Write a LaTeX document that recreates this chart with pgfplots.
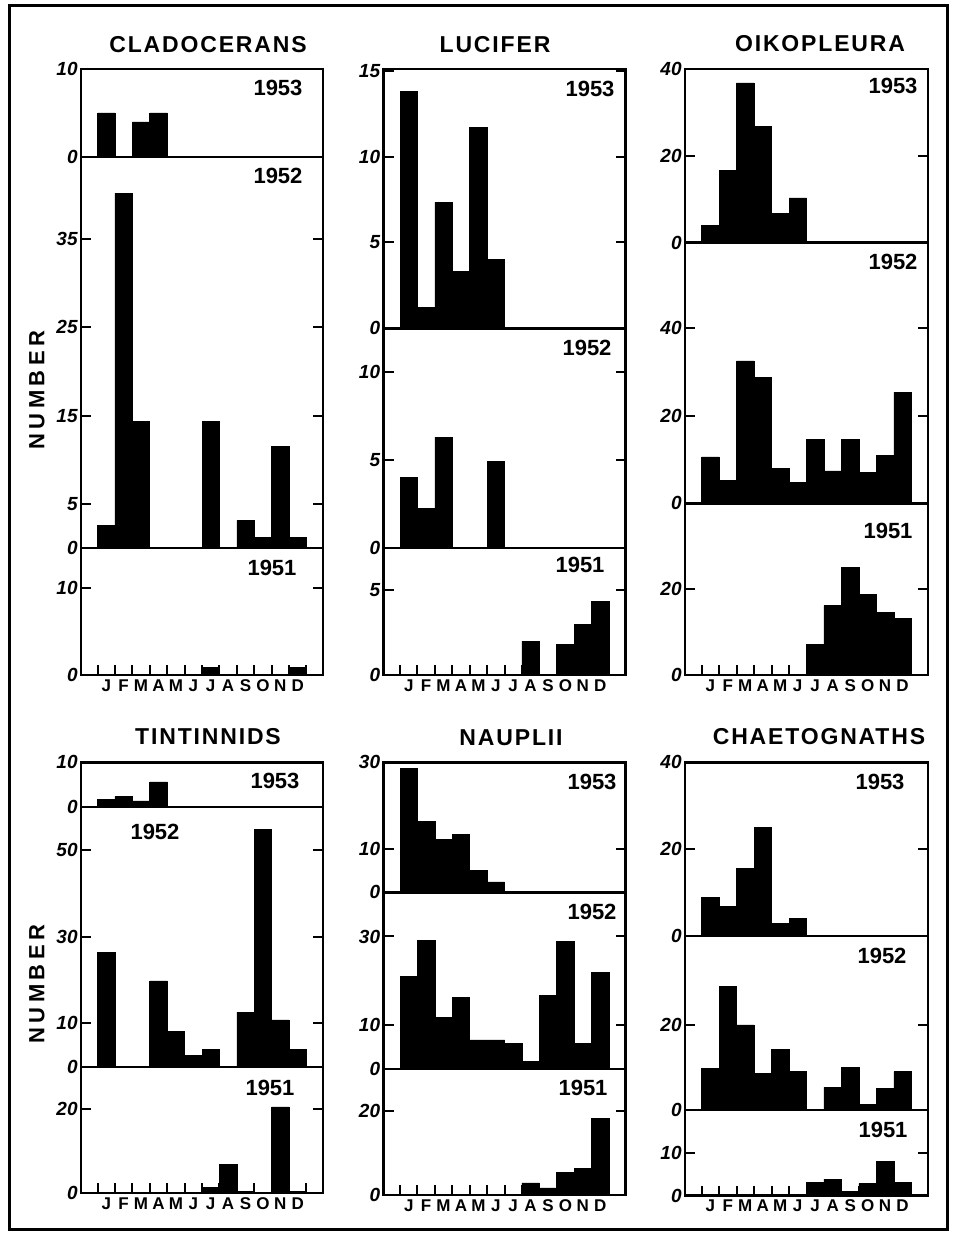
\documentclass[border=0pt]{standalone}
\usepackage{fontspec}
\setmainfont{Liberation Sans}
\usepackage{pgfplots}
\pgfplotsset{compat=1.18}
\newcommand{\ttl}{\bfseries\fontsize{11.5}{11.5}\selectfont\addfontfeature{LetterSpace=8}}
\newcommand{\yr}{\bfseries\fontsize{11}{11}\selectfont}
\begin{document}
\begin{tikzpicture}
\path[use as bounding box] (0pt,0pt) rectangle (476.5pt,-618pt);
\pgfplotsset{
 sub/.style={
   scale only axis, width=121pt, anchor=south west,
   xmin=-0.45, xmax=13.45, ymin=0,
   axis line style={line width=1.2pt},
   xtick=\empty,
   xtick pos=bottom, ytick pos=both, yticklabel pos=left, tick align=inside,
   major tick length=5pt,
   tick style={line width=1pt, black},
   /pgf/number format/assume math mode=true,
   yticklabel style={font=\bfseries\itshape\fontsize{9.5}{9.5}\selectfont, inner sep=1.5pt},
 },
 months/.style={
   xtick={0.5,1.5,2.5,3.5,4.5,5.5,6.5,7.5,8.5,9.5,10.5,11.5,12.5},
   xticklabels={J,F,M,A,M,J,J,A,S,O,N,D,{}},
   xticklabel style={xshift=4.35pt, font=\bfseries\fontsize{8.5}{8.5}\selectfont, inner sep=2pt},
 },
 bars/.style={ybar, bar width=1, fill=black, draw=black, line width=0.3pt},
}
% ---------- CLADOCERANS ----------
\begin{axis}[sub, at={(40.5pt,-78.5pt)}, height=44pt, ymax=10, ytick={0,10}]
\addplot[bars] coordinates {(1,5)(3,4)(4,5)};
\end{axis}
\begin{axis}[sub, at={(40.5pt,-274pt)}, height=195.5pt, ymax=44.3, ytick={0,5,15,25,35}]
\addplot[bars] coordinates {(1,2.6)(2,40.2)(3,14.3)(7,14.3)(9,3.1)(10,1.2)(11,11.5)(12,1.2)};
\end{axis}
\begin{axis}[sub, months, at={(40.5pt,-337.5pt)}, height=63.5pt, ymax=14.6, ytick={0,10}]
\addplot[bars] coordinates {(7,0.9)(12,0.9)};
\end{axis}
% ---------- LUCIFER ----------
\begin{axis}[sub, at={(191.75pt,-164.15pt)}, height=129.65pt, ymax=15.1, ytick={0,5,10,15}]
\addplot[bars] coordinates {(1,13.8)(2,1.2)(3,7.35)(4,3.3)(5,11.7)(6,4.0)};
\end{axis}
\begin{axis}[sub, at={(191.75pt,-273.85pt)}, height=109.7pt, ymax=12.5, ytick={0,5,10}]
\addplot[bars] coordinates {(1,4)(2,2.25)(3,6.3)(6,4.9)};
\end{axis}
\begin{axis}[sub, months, at={(191.75pt,-337.5pt)}, height=63.65pt, ymax=7.5, ytick={0,5}]
\addplot[bars] coordinates {(8,2.0)(10,1.8)(11,3.0)(12,4.35)};
\end{axis}
% ---------- OIKOPLEURA ----------
\begin{axis}[sub, width=121.5pt, at={(342.5pt,-121.35pt)}, height=86.85pt, ymax=40, ytick={0,20,40}]
\addplot[bars] coordinates {(1,3.9)(2,16.7)(3,36.8)(4,26.7)(5,6.8)(6,10.3)};
\end{axis}
\begin{axis}[sub, width=121.5pt, at={(342.5pt,-251.65pt)}, height=130.3pt, ymax=59.5, ytick={0,20,40}]
\addplot[bars] coordinates {(1,10.6)(2,5.2)(3,32.5)(4,28.8)(5,8.0)(6,4.8)(7,14.5)(8,7.4)(9,14.5)(10,7.1)(11,11.0)(12,25.3)};
\end{axis}
\begin{axis}[sub, months, width=121.5pt, at={(342.5pt,-337.5pt)}, height=85.85pt, ymax=40.1, ytick={0,20}]
\addplot[bars] coordinates {(7,7.2)(8,16.2)(9,25.2)(10,18.9)(11,14.6)(12,13.2)};
\end{axis}
% ---------- TINTINNIDS ----------
\begin{axis}[sub, at={(40.5pt,-403.35pt)}, height=22.2pt, ymax=10, ytick={0,10}]
\addplot[bars] coordinates {(1,1.7)(2,2.25)(3,1.3)(4,5.6)};
\end{axis}
\begin{axis}[sub, at={(40.5pt,-533.35pt)}, height=130pt, ymax=60, ytick={0,10,30,50}]
\addplot[bars] coordinates {(1,26.4)(4,19.8)(5,8.1)(6,2.7)(7,4.0)(9,12.6)(10,54.8)(11,10.8)(12,4.0)};
\end{axis}
\begin{axis}[sub, months, at={(40.5pt,-596.5pt)}, height=63.15pt, ymax=30.2, ytick={0,20}]
\addplot[bars] coordinates {(7,1.3)(8,6.8)(9,0.4)(11,20.6)(12,0.4)};
\end{axis}
% ---------- NAUPLII ----------
\begin{axis}[sub, at={(191.75pt,-446.15pt)}, height=65pt, ymax=30, ytick={0,10,30}]
\addplot[bars] coordinates {(1,28.6)(2,16.3)(3,12.3)(4,13.4)(5,5.1)(6,2.4)};
\end{axis}
\begin{axis}[sub, at={(191.75pt,-534.5pt)}, height=88.35pt, ymax=40, ytick={0,10,30}]
\addplot[bars] coordinates {(1,20.9)(2,29.1)(3,11.7)(4,16.2)(5,6.6)(6,6.6)(7,5.8)(8,1.8)(9,16.6)(10,28.9)(11,5.8)(12,21.8)};
\end{axis}
\begin{axis}[sub, months, at={(191.75pt,-597.5pt)}, height=63pt, ymax=30, ytick={0,20}]
\addplot[bars] coordinates {(8,2.9)(9,1.7)(10,5.3)(11,6.3)(12,18.2)};
\end{axis}
% ---------- CHAETOGNATHS ----------
\begin{axis}[sub, width=121.5pt, at={(342.5pt,-468pt)}, height=86.85pt, ymax=40, ytick={0,20,40}]
\addplot[bars] coordinates {(1,8.8)(2,6.8)(3,15.6)(4,25)(5,2.9)(6,4.0)};
\end{axis}
\begin{axis}[sub, width=121.5pt, at={(342.5pt,-555pt)}, height=87pt, ymax=40.9, ytick={0,20}]
\addplot[bars] coordinates {(1,9.8)(2,29)(3,20)(4,8.6)(5,14.3)(6,9.0)(8,5.3)(9,10.0)(10,1.4)(11,5.1)(12,9.0)};
\end{axis}
\begin{axis}[sub, months, width=121.5pt, at={(342.5pt,-597.75pt)}, height=42.75pt, ymax=20.2, ytick={0,10}]
\addplot[bars] coordinates {(7,3.1)(8,3.9)(9,0.9)(10,2.8)(11,8.0)(12,3.1)};
\end{axis}
% ---------- titles and labels ----------
\node at (104pt,-22.5pt) {\ttl CLADOCERANS};
\node at (247.5pt,-22.5pt) {\ttl LUCIFER};
\node at (410pt,-22pt) {\ttl OIKOPLEURA};
\node at (104pt,-368.5pt) {\ttl TINTINNIDS};
\node at (255.5pt,-369pt) {\ttl NAUPLII};
\node at (409.5pt,-368.5pt) {\ttl CHAETOGNATHS};
\node[rotate=90] at (18.5pt,-195pt) {\bfseries\fontsize{11}{11}\selectfont\addfontfeature{LetterSpace=20}NUMBER};
\node[rotate=90] at (18.5pt,-492pt) {\bfseries\fontsize{11}{11}\selectfont\addfontfeature{LetterSpace=20}NUMBER};
\node at (139pt,-44pt) {\yr 1953};
\node at (139pt,-88pt) {\yr 1952};
\node at (136pt,-284pt) {\yr 1951};
\node at (295pt,-44.5pt) {\yr 1953};
\node at (293.5pt,-174pt) {\yr 1952};
\node at (290pt,-282.5pt) {\yr 1951};
\node at (446.5pt,-43pt) {\yr 1953};
\node at (446.5pt,-131pt) {\yr 1952};
\node at (444pt,-265.5pt) {\yr 1951};
\node at (137.5pt,-390.5pt) {\yr 1953};
\node at (77.5pt,-416pt) {\yr 1952};
\node at (135pt,-544pt) {\yr 1951};
\node at (296pt,-391pt) {\yr 1953};
\node at (296pt,-456pt) {\yr 1952};
\node at (291.5pt,-544pt) {\yr 1951};
\node at (440pt,-391pt) {\yr 1953};
\node at (441pt,-478pt) {\yr 1952};
\node at (441.5pt,-565pt) {\yr 1951};
\draw[line width=1.5pt] (4.5pt,-3pt) rectangle (473.5pt,-614.5pt);
\end{tikzpicture}
\end{document}
